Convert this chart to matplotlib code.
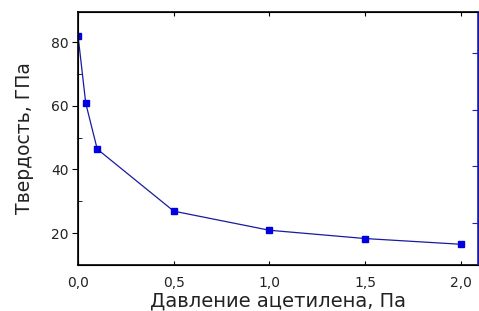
import matplotlib.pyplot as plt
from matplotlib.ticker import FuncFormatter, MultipleLocator

# давление ацетилена и твердость
davlenie = [0.0, 0.04, 0.1, 0.5, 1.0, 1.5, 2.0]
tverdost = [81.9, 60.8, 46.4, 26.9, 20.9, 18.3, 16.5]

plt.rcParams['font.family'] = ['DejaVu Sans']

fig = plt.figure(figsize=(4.79, 3.11), dpi=100)
ax = fig.add_axes([0.163, 0.148, 0.835, 0.813])

ax.plot(davlenie, tverdost, color='#1a1aa0', lw=0.9, marker='s', ms=4.5,
        mfc='#0000e0', mec='#0000e0')

ax.set_xlim(0, 2.09)
ax.set_ylim(10, 89.4)
ax.xaxis.set_major_locator(MultipleLocator(0.5))
ax.yaxis.set_major_locator(MultipleLocator(20))
ax.yaxis.set_minor_locator(MultipleLocator(10))
ax.xaxis.set_major_formatter(FuncFormatter(lambda v, p: f'{v:.1f}'.replace('.', ',')))

ax.tick_params(axis='y', which='major', direction='out', length=4, labelsize=10,
               labelcolor='#222222', pad=3)
ax.tick_params(axis='y', which='minor', direction='in', length=3)
ax.tick_params(axis='x', direction='in', length=3, labelsize=10, top=True, pad=8,
               labelcolor='#222222')

ax.set_xlabel('Давление ацетилена, Па', fontsize=14, labelpad=1, color='#222222')
ax.set_ylabel('Твердость, ГПа', fontsize=13.5, labelpad=12, color='#222222')

for s in ['left', 'bottom', 'top']:
    ax.spines[s].set_linewidth(1.2)

# правая ось (синяя, без подписей)
ax2 = ax.twinx()
ax2.set_ylim(0.26, 4.72)
ax2.set_yticks([1, 2, 3, 4])
ax2.tick_params(axis='y', direction='in', length=4, color='#2020c0', labelright=False)
ax2.spines['right'].set_color('#2020c0')
ax2.spines['right'].set_linewidth(1.2)

fig.savefig('out.png', dpi=100)
